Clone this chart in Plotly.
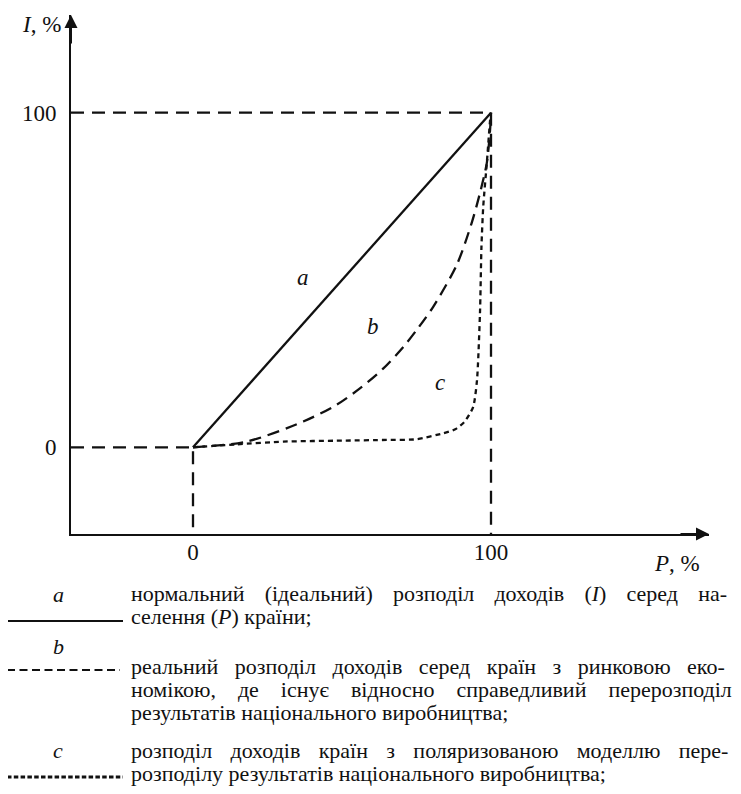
import plotly.graph_objects as go

# ---------------- data ----------------
tick_vals = [0, 100]
tick_text = ["0", "100"]

pop_ideal = [0, 100]
inc_ideal = [0, 100]

pop_real = [0, 18, 37, 48, 56, 63.8, 70.6, 75, 80.6, 88.5, 93.5, 96.3, 98.6, 99.7, 100]
inc_real = [0, 1.7, 7.7, 12.6, 17.6, 23.5, 30.0, 35.0, 42.0, 54.5, 67.0, 76.0, 85.0, 95.0, 100]

pop_polar = [0, 15, 30.3, 50, 65, 75, 84, 88, 91, 94, 95.3, 96.3, 96.8, 97.4, 98.6, 99.7, 100]
inc_polar = [0, 0.9, 1.7, 2.0, 2.2, 2.4, 4.2, 5.4, 7.5, 12.0, 20.0, 40.0, 60.0, 72.0, 85.0, 97.8, 100]

curve_letters = ["a", "b", "c"]
letter_x = [36.9, 60.4, 82.9]
letter_y = [50.6, 36.0, 19.5]

legend_rows = [
    "нормальний (ідеальний) розподіл доходів (<i>I</i>) серед на-",
    "селення (<i>P</i>) країни;",
    "реальний розподіл доходів серед країн з ринковою еко-",
    "номікою, де існує відносно справедливий перерозподіл",
    "результатів національного виробництва;",
    "розподіл доходів країн з поляризованою моделлю пере-",
    "розподілу результатів національного виробництва;",
]

# ---------------- layout geometry (screen pixels) ----------------
OFF = 8  # page body margin
W, H = 741 - OFF, 794 - OFF
L, R, T, B = 71 - OFF, 32, 15 - OFF, 260
X0PIX, X100PIX = 193.0 - OFF, 491.0 - OFF
Y0PIX, Y100PIX = 447.3 - OFF, 112.7 - OFF
xs = (X100PIX - X0PIX) / 100
ys = (Y0PIX - Y100PIX) / 100
xmin, xmax = (L - X0PIX) / xs, (W - R - X0PIX) / xs
ymin, ymax = (Y0PIX - (H - B)) / ys, (Y0PIX - T) / ys

def px(xp):
    return (xp - OFF - L) / (W - L - R)

def py(yp):
    return (H - B - (yp - OFF)) / (H - T - B)

FONT = "'Liberation Serif', 'Times New Roman', Times, serif"
FS = 22
BLACK = "#111111"

# word-gap fillers used to imitate the justified book typesetting
EN, HAIR, THREE, FOUR, SIX = "\u2002", "\u200a", "\u2004", "\u2005", "\u2006"
row_gap = [" " + EN + SIX, " ", " " + EN, " " + EN + FOUR, " ", " " + EN + HAIR, " "]

fig = go.Figure()

# guide dashed lines
guide = dict(color=BLACK, width=2.3, dash="13px,8px")
fig.add_trace(go.Scatter(x=[xmin, 100, 100], y=[100, 100, ymin], mode="lines", line=guide, cliponaxis=False))
fig.add_trace(go.Scatter(x=[xmin, 0, 0], y=[0, 0, ymin], mode="lines", line=guide, cliponaxis=False))

# curves
fig.add_trace(go.Scatter(x=pop_ideal, y=inc_ideal, mode="lines",
                         line=dict(color=BLACK, width=2.3)))
fig.add_trace(go.Scatter(x=pop_real, y=inc_real, mode="lines",
                         line=dict(color=BLACK, width=2.3, dash="12px,7px", shape="spline", smoothing=0.8)))
fig.add_trace(go.Scatter(x=pop_polar, y=inc_polar, mode="lines",
                         line=dict(color=BLACK, width=2.3, dash="5px,4px", shape="spline", smoothing=0.6)))

annotations = []
for t, lx, ly in zip(curve_letters, letter_x, letter_y):
    annotations.append(dict(x=lx, y=ly, xref="x", yref="y", text=f"<i>{t}</i>", showarrow=False,
                            font=dict(family=FONT, size=23, color=BLACK)))

# axis arrowheads
annotations.append(dict(x=xmax, y=ymin, xref="x", yref="y", ax=-30, ay=0, text="", showarrow=True,
                        arrowhead=2, arrowsize=1.3, arrowwidth=2, arrowcolor=BLACK))
annotations.append(dict(x=xmin, y=ymax, xref="x", yref="y", ax=0, ay=30, text="", showarrow=True,
                        arrowhead=2, arrowsize=1.3, arrowwidth=2, arrowcolor=BLACK))

# axis titles
annotations.append(dict(x=px(63), y=py(25), xref="paper", yref="paper", xanchor="right", yanchor="middle",
                        text="<i>I</i>, %", showarrow=False, font=dict(family=FONT, size=23, color=BLACK)))
annotations.append(dict(x=px(652), y=py(563), xref="paper", yref="paper", xanchor="left", yanchor="middle",
                        text="<i>P</i>, %", showarrow=False, font=dict(family=FONT, size=23, color=BLACK)))

# legend texts
row_y = [593, 616, 666, 689, 712, 750, 773]
for txt, yp, gap in zip(legend_rows, row_y, row_gap):
    annotations.append(dict(x=px(129), y=py(yp), xref="paper", yref="paper", xanchor="left", yanchor="middle",
                            text=txt.replace(" ", gap), showarrow=False,
                            font=dict(family=FONT, size=FS, color=BLACK)))
for t, yp in zip(curve_letters, [594, 646, 750]):
    annotations.append(dict(x=px(58), y=py(yp), xref="paper", yref="paper", xanchor="center", yanchor="middle",
                            text=f"<i>{t}</i>", showarrow=False, font=dict(family=FONT, size=FS, color=BLACK)))

shapes = [
    dict(type="line", xref="paper", yref="paper", x0=px(7), x1=px(123), y0=py(621), y1=py(621),
         line=dict(color=BLACK, width=2)),
    dict(type="line", xref="paper", yref="paper", x0=px(7), x1=px(120), y0=py(670), y1=py(670),
         line=dict(color=BLACK, width=2, dash="8px,4.5px")),
    dict(type="line", xref="paper", yref="paper", x0=px(7), x1=px(123), y0=py(777), y1=py(777),
         line=dict(color=BLACK, width=3, dash="4.5px,2.3px")),
]

tickfont = dict(family=FONT, size=23, color=BLACK)
fig.update_layout(
    width=W, height=H,
    margin=dict(l=L, r=R, t=T, b=B, pad=0),
    paper_bgcolor="white", plot_bgcolor="white",
    showlegend=False,
    xaxis=dict(range=[xmin, xmax], showgrid=False, zeroline=False, showline=True, linecolor=BLACK,
               linewidth=2, tickvals=tick_vals, ticktext=tick_text, ticks="", tickfont=tickfont,
               ticklabelstandoff=-4),
    yaxis=dict(range=[ymin, ymax], showgrid=False, zeroline=False, showline=True, linecolor=BLACK,
               linewidth=2, tickvals=tick_vals, ticktext=tick_text, ticks="outside", ticklen=8,
               tickcolor="rgba(0,0,0,0)", tickfont=tickfont),
    annotations=annotations,
    shapes=shapes,
)

fig.write_html("out.html")
